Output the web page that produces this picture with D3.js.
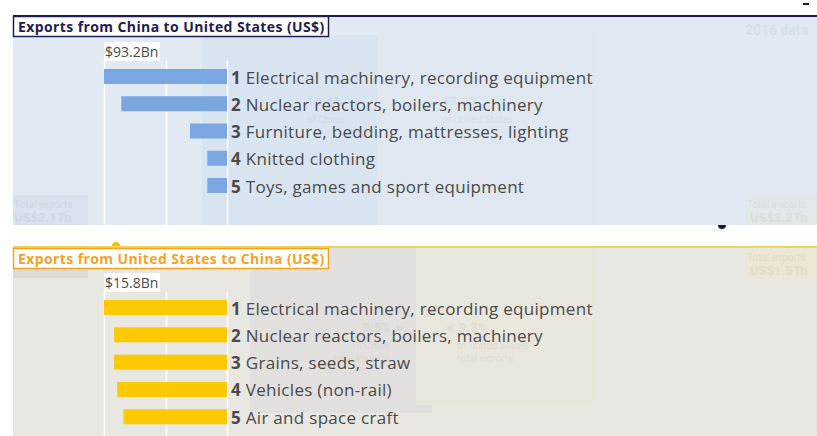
<!DOCTYPE html>
<html><head><meta charset="utf-8">
<script src="https://cdn.jsdelivr.net/npm/d3@7"></script>
<style>
html,body{margin:0;padding:0;background:#fff;}
svg{display:block;font-family:"Open Sans",sans-serif;}
</style></head>
<body>
<svg id="chart" width="817" height="436"></svg>
<script>
// ---- data ----
const topTitle = "Exports from China to United States (US$)";
const topCategories = ["Electrical machinery, recording equipment","Nuclear reactors, boilers, machinery","Furniture, bedding, mattresses, lighting","Knitted clothing","Toys, games and sport equipment"];
const topValues = [93.2, 80.1, 28.0, 14.9, 14.9];
const topMaxLabel = "$93.2Bn";

const bottomTitle = "Exports from United States to China (US$)";
const bottomCategories = ["Electrical machinery, recording equipment","Nuclear reactors, boilers, machinery","Grains, seeds, straw","Vehicles (non-rail)","Air and space craft"];
const bottomValues = [15.8, 14.5, 14.5, 14.1, 13.3];
const bottomMaxLabel = "$15.8Bn";

const svg = d3.select("#chart");
const W = 817;

// ---- panel backgrounds ----
svg.append("rect").attr("x",13).attr("y",16).attr("width",W-13).attr("height",209).attr("fill","#e1e9f3");
svg.append("rect").attr("x",13).attr("y",247).attr("width",W-13).attr("height",189).attr("fill","#e8e7e2");

// faint background layers (top)
svg.append("rect").attr("x",202).attr("y",35).attr("width",175).attr("height",190).attr("fill","#d9e4f1");
svg.append("rect").attr("x",377).attr("y",28).attr("width",222).attr("height",197).attr("fill","#dfe7f1");
svg.append("rect").attr("x",13).attr("y",195).attr("width",75).attr("height",30).attr("fill","#d9e2ee");
svg.append("rect").attr("x",745).attr("y",195).attr("width",72).attr("height",30).attr("fill","#e2e8ea");
// faint background layers (bottom)
svg.append("rect").attr("x",250).attr("y",248).attr("width",182).attr("height",165).attr("fill","#e1e0de");
svg.append("rect").attr("x",416).attr("y",248).attr("width",179).attr("height",157).attr("fill","#e9e6dc");
svg.append("rect").attr("x",13).attr("y",262).attr("width",75).attr("height",16).attr("fill","#dcdbd8");
svg.append("rect").attr("x",745).attr("y",249).attr("width",72).attr("height",30).attr("fill","#ebe6d6");

const faint = (x,y,t,size,weight,fill,anchor) => svg.append("text").attr("x",x).attr("y",y).text(t)
  .attr("font-family","Roboto, sans-serif").attr("font-size",size).attr("font-weight",weight||400)
  .attr("fill",fill).attr("text-anchor",anchor||"start");
faint(745,35,"2016 data",14,700,"#d6dfea");
faint(14,208,"Total exports",10,400,"#cfd9e6");
faint(14,222,"US$2.1Tn",13,700,"#cfd9e6");
faint(747,208,"Total imports",10,400,"#d8e0df");
faint(750,222,"US$2.2Tn",13,700,"#d8e0df");
faint(747,261,"Total exports",10,400,"#e2ddca");
faint(750,275,"US$1.5Tn",13,700,"#e2ddca");
faint(325,106,"19.4%",13,700,"#cfdaea","middle");
faint(325,123,"of China",10,400,"#cfdaea","middle");
faint(442,106,"17.2%",13,700,"#d6deea");
faint(442,123,"of United States",10,400,"#d6deea");
faint(407,332,"8.5% \u25BA",13,700,"#d9d8d5","end");
faint(390,349,"of China",10,400,"#d9d8d5","end");
faint(390,362,"total imports",10,400,"#d9d8d5","end");
faint(443,332,"\u25C4 9.3%",13,700,"#e0ddd2");
faint(457,349,"of United States",10,400,"#e0ddd2");
faint(457,362,"total exports",10,400,"#e0ddd2");

// top rules
svg.append("rect").attr("x",13).attr("y",15).attr("width",W-13).attr("height",2).attr("fill","#1c1748");
svg.append("rect").attr("x",13).attr("y",246).attr("width",W-13).attr("height",2).attr("fill","#f2d35b");
// small markers
svg.append("path").attr("d",d3.arc()({innerRadius:0,outerRadius:4,startAngle:Math.PI/2,endAngle:Math.PI*1.5})).attr("transform","translate(722,225)").attr("fill","#1c1748");
svg.append("path").attr("d",d3.arc()({innerRadius:0,outerRadius:4,startAngle:-Math.PI/2,endAngle:Math.PI/2})).attr("transform","translate(116,246)").attr("fill","#f7c300");
svg.append("rect").attr("x",803).attr("y",3).attr("width",6).attr("height",2).attr("fill","#1c1748");

function panel(cfg){
  const g = svg.append("g");
  const x = d3.scaleLinear().domain([0, d3.max(cfg.values)]).range([227, 104]);
  const y = d3.scalePoint().domain(d3.range(cfg.values.length)).range(cfg.rowRange);
  const barH = 15;
  const ticks = [0, d3.max(cfg.values)/2, d3.max(cfg.values)];
  g.selectAll("line.grid").data(ticks).join("line")
    .attr("x1",d=>Math.round(x(d))+0.5).attr("x2",d=>Math.round(x(d))+0.5)
    .attr("y1",cfg.gridTop).attr("y2",cfg.gridBottom)
    .attr("stroke","#ffffff").attr("stroke-width",1.5);
  g.append("rect").attr("x",x(ticks[2])).attr("y",cfg.labelY-15).attr("width",56).attr("height",19).attr("fill","#ffffff");
  g.append("text").attr("x",x(ticks[2])+1).attr("y",cfg.labelY).text(cfg.maxLabel)
    .attr("font-size",14).attr("fill","#4a4a4a");
  g.selectAll("rect.bar").data(cfg.values).join("rect")
    .attr("x",d=>x(d)).attr("width",d=>x(0)-x(d))
    .attr("y",(d,i)=>y(i)).attr("height",barH).attr("fill",cfg.color);
  const t = g.selectAll("text.lab").data(cfg.categories).join("text")
    .attr("x",231).attr("y",(d,i)=>y(i)+barH-0.5)
    .attr("font-size",17).attr("letter-spacing",0.3).attr("fill","#4a4a4a");
  t.append("tspan").attr("font-weight",700).text((d,i)=>(i+1));
  t.append("tspan").text(d=>" "+d);
  g.append("rect").attr("x",13.5).attr("y",cfg.titleY+0.5).attr("width",315).attr("height",20)
    .attr("fill","#ffffff").attr("stroke",cfg.titleColor).attr("stroke-width",1.5);
  g.append("text").attr("x",18).attr("y",cfg.titleY+16).text(cfg.title)
    .attr("font-size",14).attr("letter-spacing",0.4).attr("font-weight",700).attr("fill",cfg.titleColor);
}

panel({title:topTitle, categories:topCategories, values:topValues, maxLabel:topMaxLabel,
  color:"#7aa6e2", titleColor:"#221d50", titleY:16, labelY:57, gridTop:61, gridBottom:225, rowRange:[69,178]});
panel({title:bottomTitle, categories:bottomCategories, values:bottomValues, maxLabel:bottomMaxLabel,
  color:"#fdc900", titleColor:"#f7a21f", titleY:248, labelY:288, gridTop:292, gridBottom:436, rowRange:[300,409.3]});
</script>
</body></html>
